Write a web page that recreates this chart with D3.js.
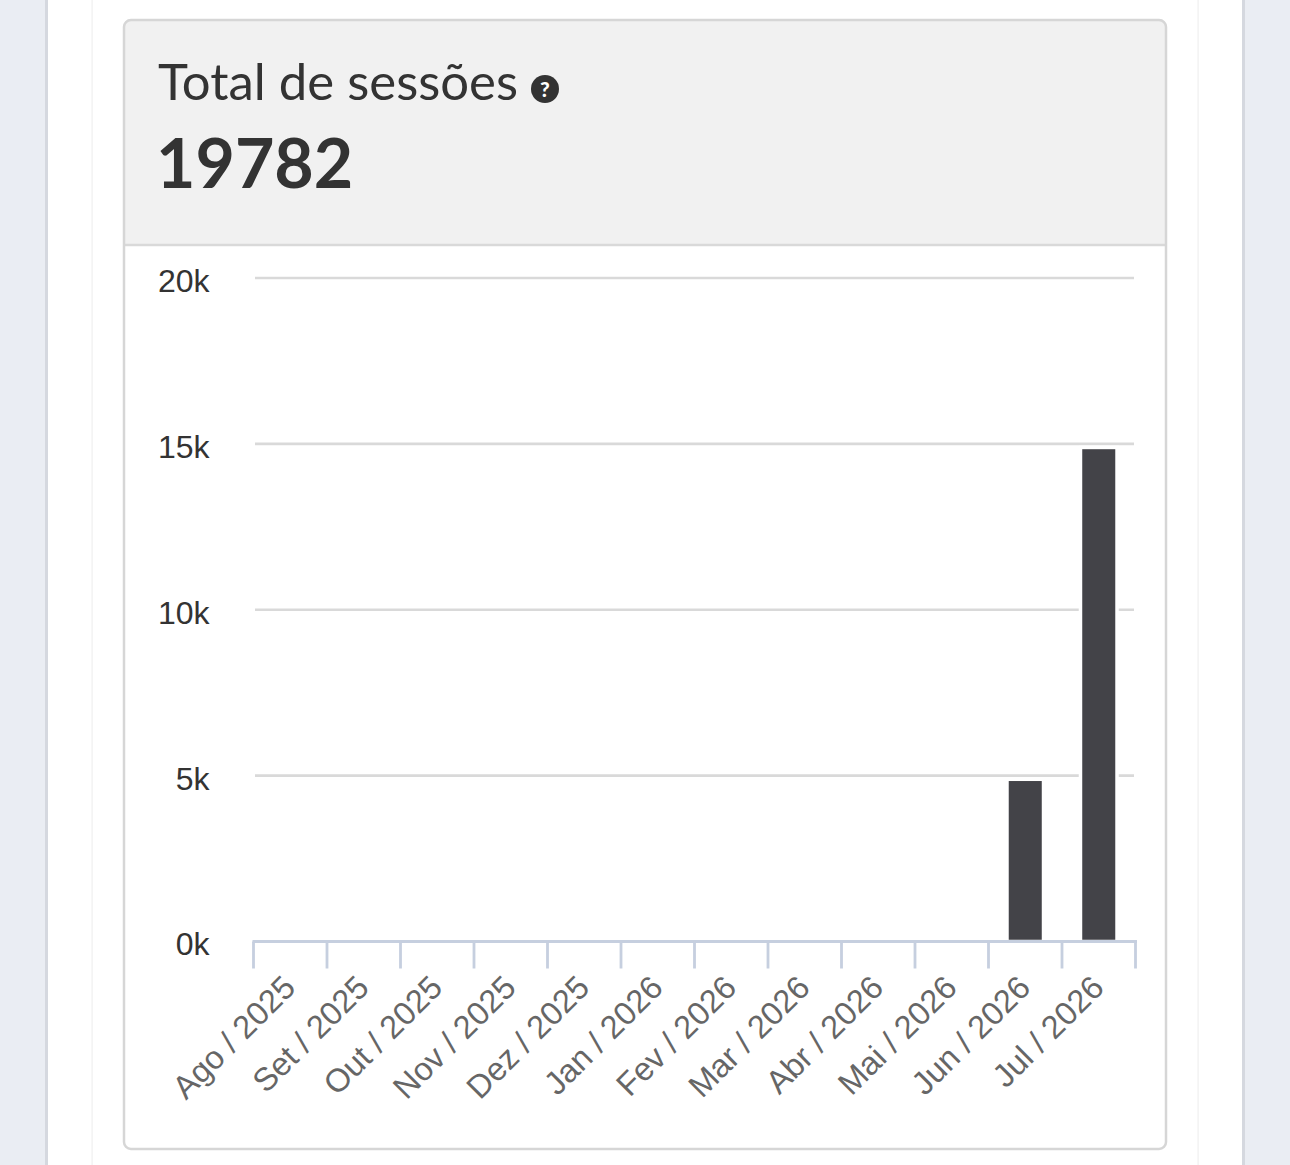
<!DOCTYPE html>
<html>
<head>
<meta charset="utf-8">
<script src="https://cdn.jsdelivr.net/npm/d3@7"></script>
<style>
  html, body { margin: 0; padding: 0; background: #fff; }
  svg { display: block; }
</style>
</head>
<body>
<div id="chart-container"></div>
<script>
// chart values
const months = ["Ago / 2025", "Set / 2025", "Out / 2025", "Nov / 2025", "Dez / 2025", "Jan / 2026",
                "Fev / 2026", "Mar / 2026", "Abr / 2026", "Mai / 2026", "Jun / 2026", "Jul / 2026"];
const sessions = [0, 0, 0, 0, 0, 0, 0, 0, 0, 0, 4890, 14892];
const yTicks = [0, 5000, 10000, 15000, 20000];
const titleText = "Total de sessões";
const totalText = "19782";

const W = 1290, H = 1165;
const svg = d3.select("#chart-container").append("svg")
    .attr("width", W)
    .attr("height", H);

// page background: side panels and faint column lines
svg.append("rect").attr("x", 0).attr("y", 0).attr("width", 46).attr("height", H).attr("fill", "#eaedf3");
svg.append("rect").attr("x", 45).attr("y", 0).attr("width", 3).attr("height", H).attr("fill", "#d5d8df");
svg.append("rect").attr("x", 1244).attr("y", 0).attr("width", W - 1244).attr("height", H).attr("fill", "#eaedf3");
svg.append("rect").attr("x", 1242).attr("y", 0).attr("width", 3).attr("height", H).attr("fill", "#d5d8df");
svg.append("rect").attr("x", 91.5).attr("y", 0).attr("width", 1.2).attr("height", H).attr("fill", "#efefef");
svg.append("rect").attr("x", 1197.5).attr("y", 0).attr("width", 1.2).attr("height", H).attr("fill", "#efefef");

// card
const card = {x: 124, y: 20, w: 1042, h: 1129, headerH: 225};
svg.append("defs").append("clipPath").attr("id", "card-clip")
  .append("rect")
    .attr("x", card.x).attr("y", card.y)
    .attr("width", card.w).attr("height", card.h)
    .attr("rx", 7);

svg.append("rect")
    .attr("x", card.x).attr("y", card.y)
    .attr("width", card.w).attr("height", card.h)
    .attr("rx", 7)
    .attr("fill", "#fff");

svg.append("rect")
    .attr("clip-path", "url(#card-clip)")
    .attr("x", card.x).attr("y", card.y)
    .attr("width", card.w).attr("height", card.headerH)
    .attr("fill", "#f1f1f1");

svg.append("line")
    .attr("x1", card.x).attr("x2", card.x + card.w)
    .attr("y1", card.y + card.headerH).attr("y2", card.y + card.headerH)
    .attr("stroke", "#d9d9d9").attr("stroke-width", 2.5);

svg.append("rect")
    .attr("x", card.x).attr("y", card.y)
    .attr("width", card.w).attr("height", card.h)
    .attr("rx", 7)
    .attr("fill", "none")
    .attr("stroke", "#d6d6d6")
    .attr("stroke-width", 2.5);

// header texts
const title = svg.append("text")
    .attr("x", 158).attr("y", 100)
    .attr("font-family", "Lato, 'Open Sans', sans-serif")
    .attr("font-size", 50)
    .attr("fill", "#333")
    .text(titleText);

const tw = title.node().getComputedTextLength();
if (Math.abs(tw - 360) > 4) title.attr("textLength", 360).attr("lengthAdjust", "spacingAndGlyphs");

svg.append("circle")
    .attr("cx", 545).attr("cy", 89).attr("r", 14)
    .attr("fill", "#333");
svg.append("text")
    .attr("x", 545).attr("y", 96.5)
    .attr("text-anchor", "middle")
    .attr("font-family", "Lato, sans-serif")
    .attr("font-weight", "900")
    .attr("font-size", 21)
    .attr("fill", "#fff")
    .text("?");

svg.append("text")
    .attr("x", 156).attr("y", 188)
    .attr("font-family", "Lato, 'Open Sans', sans-serif")
    .attr("font-weight", "bold")
    .attr("font-size", 68)
    .attr("fill", "#333")
    .text(totalText);

// plot area
const plot = {left: 253.5, right: 1135.5, top: 278, bottom: 941.5};

const x = d3.scaleBand()
    .domain(months)
    .range([plot.left, plot.right])
    .paddingInner(0.503)
    .paddingOuter(0.2515);

const y = d3.scaleLinear()
    .domain([0, 20000])
    .range([plot.bottom, plot.top]);

// horizontal grid
svg.append("g")
    .attr("class", "grid")
    .selectAll("line")
    .data(yTicks.filter(d => d > 0))
    .enter().append("line")
    .attr("x1", 255).attr("x2", 1134)
    .attr("y1", d => y(d)).attr("y2", d => y(d))
    .attr("stroke", "#d9d9d9")
    .attr("stroke-width", 2.6);

// y axis labels
const yAxis = svg.append("g")
    .attr("transform", `translate(${plot.left}, 0)`)
    .call(d3.axisLeft(y)
        .tickValues(yTicks)
        .tickSize(0)
        .tickPadding(44)
        .tickFormat(d => (d / 1000) + "k"));
yAxis.select(".domain").remove();
yAxis.selectAll("text")
    .attr("font-family", "'Liberation Sans', Arial, sans-serif")
    .attr("font-size", 32)
    .attr("fill", "#333")
    .attr("dy", "0.42em");

// bars
svg.selectAll(".bar")
    .data(months.map((m, i) => ({month: m, value: sessions[i]})).filter(d => d.value > 0))
    .enter().append("rect")
    .attr("class", "bar")
    .attr("x", d => x(d.month))
    .attr("width", x.bandwidth())
    .attr("y", d => y(d.value))
    .attr("height", d => y(0) - y(d.value))
    .attr("fill", "#434348")
    .attr("stroke", "#fff")
    .attr("stroke-width", 3.5);

// x axis: ticks between categories
const tickPos = d3.range(months.length + 1).map(i => plot.left + i * x.step());
const xAxis = svg.append("g").attr("class", "x-axis");
xAxis.append("line")
    .attr("x1", plot.left - 1).attr("x2", plot.right + 1.5)
    .attr("y1", plot.bottom).attr("y2", plot.bottom)
    .attr("stroke", "#c6cfdf").attr("stroke-width", 2.8);
xAxis.selectAll(".tick")
    .data(tickPos)
    .enter().append("line")
    .attr("class", "tick")
    .attr("x1", d => d).attr("x2", d => d)
    .attr("y1", plot.bottom).attr("y2", plot.bottom + 27)
    .attr("stroke", "#c6cfdf").attr("stroke-width", 2.8);

xAxis.selectAll(".xlabel")
    .data(months)
    .enter().append("text")
    .attr("class", "xlabel")
    .attr("transform", d => `translate(${x(d) + x.bandwidth() / 2 + 7}, ${plot.bottom + 48}) rotate(-45)`)
    .attr("text-anchor", "end")
    .attr("font-family", "'Liberation Sans', Arial, sans-serif")
    .attr("font-size", 32.5)
    .attr("fill", "#666")
    .text(d => d);
</script>
</body>
</html>
